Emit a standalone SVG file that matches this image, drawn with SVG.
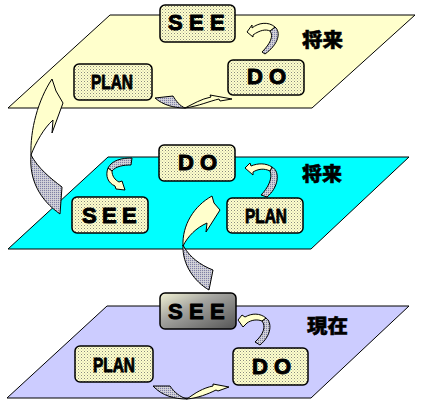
<svg xmlns="http://www.w3.org/2000/svg" width="426" height="409" viewBox="0 0 426 409">
<defs>
<pattern id="dots" width="3" height="3" patternUnits="userSpaceOnUse"><rect width="3" height="3" fill="#FFFFCC"/><rect width="1" height="1" fill="#8a8a80"/><rect x="1.5" y="1.5" width="1" height="1" fill="#b8b8a0"/></pattern>
<pattern id="gdots" width="2" height="2" patternUnits="userSpaceOnUse"><rect width="2" height="2" fill="#C4C4E0"/><rect width="1" height="1" fill="#86869a"/><rect x="1" y="1" width="1" height="1" fill="#dcdccc"/></pattern>
<linearGradient id="metal" x1="0" y1="0" x2="1" y2="1"><stop offset="0" stop-color="#F4F4D4"/><stop offset="0.4" stop-color="#A4A4A0"/><stop offset="1" stop-color="#555555"/></linearGradient>
<style>
.plane{stroke:#000;stroke-width:1}
.box{fill:url(#dots);stroke:#000;stroke-width:1.5}
.lbl{font-family:"Liberation Sans",Arial,sans-serif;font-weight:bold;font-size:22px;fill:#000;stroke:#000;stroke-width:1;stroke-linejoin:round}
.pl{font-family:"Liberation Sans",Arial,sans-serif;font-weight:bold;font-size:21px;fill:#000;stroke:#000;stroke-width:0.9;stroke-linejoin:round}
.jp{font-family:"Noto Sans CJK JP","Noto Sans CJK SC",sans-serif;font-weight:900;font-size:19px;fill:#000;stroke:#000;stroke-width:0.5}
.ay{stroke:#000;stroke-width:1;stroke-linejoin:round}
.ag{fill:url(#gdots);stroke:#000;stroke-width:1;stroke-linejoin:round}
</style>
</defs>
<g id="planes">
<polygon class="plane" points="110,15 415,15 312,108 8,108" fill="#FFFFCC"/>
<polygon class="plane" points="108,157 409,157 311,249 8,249" fill="#00FFFF"/>
<polygon class="plane" points="107,306 409,306 311,398 7,398" fill="#CCCCFF"/>
<text class="jp" x="302" y="47" textLength="41" lengthAdjust="spacingAndGlyphs">将来</text>
<text class="jp" x="302" y="181" textLength="40" lengthAdjust="spacingAndGlyphs">将来</text>
<text class="jp" x="307" y="333" textLength="41" lengthAdjust="spacingAndGlyphs">現在</text>
</g>
<g id="connectors">
<path class="ag" d="M31,155 C29,180 40,200 60,214 L62,187 C50,178 38,168 31,155 Z"/>
<path class="ay" fill="#FFFFCC" d="M31,155 C30,130 38,100 52,79 L56,91 L63,103 L52,133 L53,120 C44,128 36,142 31,155 Z"/>
<path class="ag" d="M183,245 C182,265 195,282 209,290 L213,270 C200,265 190,257 184,247 Z"/>
<path class="ay" fill="#FFFFCC" d="M183,246 C182,225 194,206 212,196 L214,203 L220,210 L206,232 L207,223 C196,228 188,236 183,246 Z"/>
<path class="ag" d="M275,27 C281,32 279,44 265,54 L262,52 C270,44 274,36 270,31 Z"/>
<path class="ay" fill="#FFFFCC" d="M247,32 L252,25 L252,28 C258,23 268,21 275,27 L270,31 C266,29 260,30 253,35 L253,37 Z"/>
<path class="ag" d="M155,98 L173,96 C176,101 180,106 185,108 C174,108 163,105 155,98 Z"/>
<path class="ay" fill="#FFFFCC" d="M185,108 C193,104 201,99 211,97 L210,95 L232,99 L220,101 L219,99 C210,101 199,106 185,108 Z"/>
<path class="ag" d="M132,158 C122,158 112,160 108,168 L112,171 C116,166 124,165 131,165 Z"/>
<path class="ay" fill="#FFFFCC" d="M108,168 C105,176 108,183 115,186 L116,189 L125,190 L122,181 L119,182 C115,180 112,176 112,171 Z"/>
<path class="ag" d="M272,167 C281,172 278,188 267,197 L261,195 C268,188 273,178 270,171 Z"/>
<path class="ay" fill="#FFFFCC" d="M245,168 L250,163 L251,166 C258,163 266,163 272,167 L270,171 C264,168 258,169 253,172 L253,175 Z"/>
<path class="ag" d="M266,318 C272,322 272,335 260,345 L255,342 C264,334 266,326 262,321 Z"/>
<path class="ay" fill="#FFFFCC" d="M238,320 L242,315 L245,317 C252,313 260,313 266,318 L262,321 C257,319 251,320 247,323 L243,327 Z"/>
<path class="ag" d="M153,386 L170,386 C174,392 180,397 187,399 C175,399 162,396 153,386 Z"/>
<path class="ay" fill="#FFFFCC" d="M187,399 C195,393 203,388 213,386 L213,384 L229,387 L218,391 L216,390 C208,394 198,398 187,399 Z"/>
</g>
<g id="see-top"><rect class="box" x="160" y="5" width="75" height="37" rx="5"/><text class="lbl" transform="translate(168,30)" x="0 21 42" y="0">SEE</text></g>
<g id="plan-top"><rect class="box" x="74" y="64" width="78" height="36" rx="5"/><text class="pl" x="91" y="88.5" textLength="42" lengthAdjust="spacingAndGlyphs">PLAN</text></g>
<g id="do-top"><rect class="box" x="228" y="60" width="76" height="35" rx="5"/><text class="lbl" transform="translate(247,84)" x="0 22" y="0">DO</text></g>
<g id="do-mid"><rect class="box" x="159" y="145" width="76" height="36" rx="5"/><text class="lbl" transform="translate(178,169.5)" x="0 22" y="0">DO</text></g>
<g id="see-mid"><rect class="box" x="72" y="197" width="76" height="36" rx="5"/><text class="lbl" transform="translate(82,222.5)" x="0 20 40" y="0">SEE</text></g>
<g id="plan-mid"><rect class="box" x="227" y="198" width="76" height="35" rx="5"/><text class="pl" x="245" y="223" textLength="42" lengthAdjust="spacingAndGlyphs">PLAN</text></g>
<g id="see-bot"><rect x="160" y="293" width="76" height="36" rx="5" fill="url(#metal)" stroke="#000" stroke-width="1.5"/><text class="lbl" transform="translate(168,319)" x="0 21 42" y="0">SEE</text></g>
<g id="plan-bot"><rect class="box" x="75" y="346" width="78" height="36" rx="5"/><text class="pl" x="93" y="372" textLength="42" lengthAdjust="spacingAndGlyphs">PLAN</text></g>
<g id="do-bot"><rect class="box" x="233" y="348" width="75" height="37" rx="5"/><text class="lbl" transform="translate(252,373.5)" x="0 22" y="0">DO</text></g>
</svg>
